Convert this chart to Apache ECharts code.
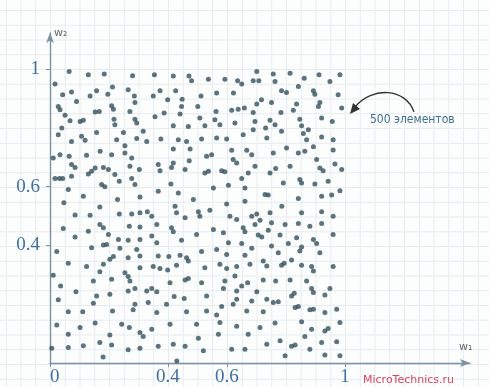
<!DOCTYPE html>
<html>
<head>
<meta charset="utf-8">
<script src="https://cdn.jsdelivr.net/npm/echarts@6/dist/echarts.min.js"></script>
<style>
  html, body { margin: 0; padding: 0; background: #fff; }
  #chart {
    width: 489px; height: 387px;
    background-color: #fcfdfd;
    background-image:
      linear-gradient(to right, #e8ecef 1px, transparent 1px),
      linear-gradient(to bottom, #e8ecef 1px, transparent 1px);
    background-size: 14.75px 14.75px;
    background-position: 50px 364px;
  }
</style>
</head>
<body>
<div id="chart"></div>
<script>
// 500 random elements (w1, w2)
const points = [
  [0.065,0.991],[0.130,0.980],[0.184,0.983],[0.280,0.977],[0.017,0.949],[0.212,0.938],[0.043,0.912],[0.073,0.921],
  [0.136,0.908],[0.158,0.926],[0.196,0.914],[0.265,0.929],[0.286,0.908],[0.090,0.889],[0.288,0.886],[0.028,0.872],
  [0.034,0.861],[0.153,0.853],[0.167,0.855],[0.209,0.875],[0.215,0.863],[0.271,0.855],[0.051,0.842],[0.068,0.824],
  [0.102,0.821],[0.113,0.825],[0.217,0.829],[0.288,0.829],[0.294,0.816],[0.220,0.810],[0.040,0.799],[0.028,0.776],
  [0.158,0.784],[0.249,0.784],[0.316,0.788],[0.107,0.771],[0.073,0.753],[0.119,0.757],[0.226,0.759],[0.294,0.763],
  [0.328,0.753],[0.254,0.739],[0.011,0.697],[0.034,0.708],[0.065,0.703],[0.124,0.706],[0.170,0.720],[0.209,0.708],
  [0.254,0.714],[0.277,0.697],
  [0.354,0.980],[0.418,0.976],[0.471,0.976],[0.480,0.960],[0.537,0.965],[0.593,0.965],[0.636,0.960],[0.650,0.949],
  [0.373,0.926],[0.350,0.908],[0.426,0.926],[0.399,0.895],[0.448,0.897],[0.512,0.908],[0.565,0.918],[0.622,0.918],
  [0.446,0.872],[0.501,0.872],[0.387,0.850],[0.356,0.837],[0.441,0.847],[0.563,0.855],[0.616,0.859],[0.638,0.863],
  [0.659,0.867],[0.418,0.807],[0.469,0.804],[0.508,0.833],[0.525,0.807],[0.559,0.827],[0.576,0.810],[0.627,0.816],
  [0.376,0.762],[0.435,0.759],[0.463,0.753],[0.514,0.762],[0.565,0.765],[0.599,0.762],[0.655,0.776],[0.418,0.728],
  [0.475,0.728],[0.531,0.703],[0.548,0.708],[0.616,0.723],[0.667,0.723],
  [0.701,0.991],[0.689,0.960],[0.708,0.960],[0.757,0.983],[0.763,0.957],[0.814,0.985],[0.862,0.968],[0.912,0.980],
  [0.983,0.980],[0.949,0.957],[0.785,0.926],[0.802,0.920],[0.842,0.940],[0.893,0.926],[0.898,0.914],[0.977,0.912],
  [0.717,0.895],[0.701,0.881],[0.751,0.886],[0.836,0.881],[0.915,0.886],[0.910,0.872],[0.989,0.867],[0.689,0.852],
  [0.783,0.852],[0.825,0.859],[0.746,0.825],[0.763,0.810],[0.695,0.821],[0.847,0.829],[0.921,0.833],[0.957,0.821],
  [0.689,0.793],[0.731,0.799],[0.853,0.807],[0.876,0.793],[0.785,0.788],[0.735,0.765],[0.859,0.780],[0.921,0.768],
  [0.960,0.759],[0.870,0.759],[0.893,0.735],[0.802,0.731],[0.960,0.724],[0.842,0.714],[0.864,0.720],[0.757,0.714],
  [0.684,0.708],
  [0.073,0.675],[0.085,0.665],[0.141,0.652],[0.153,0.663],[0.181,0.665],[0.198,0.658],[0.271,0.669],[0.303,0.658],
  [0.017,0.627],[0.032,0.627],[0.043,0.627],[0.073,0.635],[0.130,0.643],[0.220,0.641],[0.175,0.607],[0.186,0.599],
  [0.235,0.618],[0.277,0.627],[0.288,0.607],[0.062,0.590],[0.113,0.567],[0.229,0.556],[0.305,0.564],[0.047,0.545],
  [0.169,0.530],[0.085,0.503],[0.136,0.502],[0.235,0.507],[0.277,0.507],[0.305,0.511],[0.330,0.514],[0.169,0.471],
  [0.181,0.460],[0.045,0.457],[0.269,0.465],[0.305,0.462],[0.130,0.448],[0.085,0.428],[0.198,0.437],[0.232,0.420],
  [0.265,0.417],[0.305,0.420],[0.141,0.392],[0.181,0.401],[0.192,0.403],[0.237,0.390],[0.294,0.386],[0.023,0.379],
  [0.367,0.675],[0.373,0.654],[0.418,0.680],[0.412,0.665],[0.472,0.688],[0.458,0.658],[0.621,0.692],[0.633,0.680],
  [0.525,0.646],[0.537,0.652],[0.582,0.654],[0.593,0.650],[0.650,0.627],[0.661,0.595],[0.410,0.609],[0.554,0.595],
  [0.605,0.604],[0.367,0.584],[0.435,0.578],[0.486,0.556],[0.599,0.541],[0.661,0.550],[0.424,0.533],[0.429,0.511],
  [0.345,0.499],[0.503,0.514],[0.508,0.499],[0.542,0.519],[0.458,0.494],[0.610,0.499],[0.633,0.488],[0.362,0.471],
  [0.412,0.460],[0.418,0.446],[0.554,0.454],[0.588,0.443],[0.497,0.437],[0.655,0.460],[0.661,0.446],[0.345,0.432],
  [0.362,0.409],[0.446,0.417],[0.605,0.409],[0.650,0.406],[0.514,0.379],[0.565,0.386],
  [0.695,0.669],[0.672,0.646],[0.746,0.646],[0.765,0.661],[0.814,0.669],[0.904,0.692],[0.915,0.663],[0.926,0.654],
  [0.966,0.677],[0.989,0.658],[0.791,0.612],[0.847,0.624],[0.853,0.612],[0.898,0.609],[0.943,0.618],[0.983,0.586],
  [0.729,0.573],[0.740,0.571],[0.842,0.559],[0.921,0.567],[0.955,0.571],[0.786,0.533],[0.853,0.511],[0.921,0.514],
  [0.960,0.499],[0.684,0.499],[0.701,0.507],[0.746,0.511],[0.712,0.485],[0.695,0.471],[0.751,0.477],[0.797,0.471],
  [0.842,0.474],[0.881,0.465],[0.921,0.474],[0.740,0.451],[0.706,0.435],[0.718,0.428],[0.780,0.435],[0.836,0.426],
  [0.893,0.420],[0.960,0.437],[0.751,0.398],[0.808,0.406],[0.853,0.394],[0.847,0.381],[0.904,0.406],[0.915,0.375],
  [0.774,0.375],[0.684,0.390],
  [0.203,0.353],[0.215,0.362],[0.265,0.358],[0.305,0.364],[0.062,0.339],[0.124,0.328],[0.181,0.336],[0.169,0.310],
  [0.254,0.307],[0.265,0.294],[0.271,0.279],[0.305,0.324],[0.011,0.298],[0.147,0.279],[0.209,0.285],[0.036,0.262],
  [0.088,0.242],[0.158,0.228],[0.203,0.234],[0.265,0.245],[0.288,0.253],[0.328,0.245],[0.028,0.215],[0.147,0.203],
  [0.288,0.200],[0.333,0.206],[0.062,0.174],[0.111,0.174],[0.212,0.177],[0.282,0.181],[0.023,0.129],[0.102,0.121],
  [0.153,0.136],[0.243,0.132],[0.269,0.121],[0.305,0.104],[0.062,0.098],[0.203,0.095],[0.316,0.090],[0.006,0.050],
  [0.062,0.053],[0.113,0.059],[0.169,0.070],[0.209,0.061],[0.265,0.045],[0.305,0.050],[0.180,0.020],
  [0.367,0.364],[0.403,0.362],[0.441,0.366],[0.463,0.358],[0.599,0.369],[0.661,0.366],[0.350,0.328],[0.373,0.321],
  [0.399,0.316],[0.429,0.332],[0.469,0.347],[0.525,0.324],[0.576,0.336],[0.599,0.321],[0.633,0.328],[0.407,0.273],
  [0.458,0.282],[0.469,0.287],[0.514,0.273],[0.593,0.279],[0.627,0.296],[0.588,0.253],[0.633,0.245],[0.650,0.262],
  [0.345,0.253],[0.362,0.242],[0.421,0.226],[0.455,0.219],[0.531,0.228],[0.633,0.217],[0.621,0.200],[0.582,0.192],
  [0.395,0.200],[0.362,0.172],[0.463,0.174],[0.531,0.177],[0.565,0.163],[0.667,0.177],[0.345,0.115],[0.407,0.132],
  [0.497,0.132],[0.576,0.138],[0.633,0.125],[0.571,0.098],[0.503,0.084],[0.418,0.064],[0.367,0.057],[0.458,0.057],
  [0.520,0.042],[0.616,0.047],[0.661,0.047],[0.430,0.007],
  [0.678,0.336],[0.723,0.347],[0.735,0.330],[0.785,0.332],[0.794,0.339],[0.819,0.350],[0.853,0.332],[0.887,0.328],
  [0.893,0.313],[0.960,0.328],[0.670,0.273],[0.723,0.282],[0.765,0.279],[0.814,0.282],[0.870,0.279],[0.701,0.242],
  [0.819,0.228],[0.828,0.237],[0.887,0.253],[0.893,0.240],[0.949,0.253],[0.932,0.231],[0.684,0.211],[0.735,0.217],
  [0.757,0.206],[0.774,0.208],[0.831,0.189],[0.842,0.192],[0.881,0.181],[0.893,0.183],[0.932,0.172],[0.972,0.183],
  [0.723,0.174],[0.712,0.121],[0.763,0.136],[0.853,0.140],[0.887,0.115],[0.932,0.109],[0.943,0.117],[0.983,0.138],
  [0.672,0.098],[0.864,0.090],[0.921,0.070],[0.972,0.072],[0.735,0.064],[0.780,0.076],[0.831,0.061],[0.819,0.057],
  [0.881,0.047],[0.797,0.025],[0.983,0.025],[0.932,0.027]
];
const xTickValues = [0, 0.4, 0.6, 1];
const yTickValues = [0.4, 0.6, 1];
const xAxisEnd = 1.424; // axis lines run past 1 up to the arrows
const yAxisEnd = 1.122;

const axisColor = '#7c91a1';
const labelColor = '#41709c';
const labelFont = 'Liberation Serif';

const chart = echarts.init(document.getElementById('chart'), null, { renderer: 'canvas' });
const option = {
  animation: false,
  grid: { left: 50, right: 19, top: 33, bottom: 23 },
  xAxis: {
    type: 'value',
    min: 0,
    max: xAxisEnd,
    axisLine: {
      show: true,
      onZero: false,
      symbol: ['none', 'arrow'],
      symbolSize: [6, 10],
      lineStyle: { color: axisColor, width: 1.4 }
    },
    axisTick: { show: true, customValues: xTickValues, length: 4, lineStyle: { color: axisColor } },
    axisLabel: {
      customValues: xTickValues,
      formatter: (v) => String(v),
      color: labelColor,
      fontFamily: labelFont,
      fontSize: 19,
      margin: 5,
      alignMinLabel: 'left'
    },
    splitLine: { show: false }
  },
  yAxis: {
    type: 'value',
    min: 0,
    max: yAxisEnd,
    axisLine: {
      show: true,
      onZero: false,
      symbol: ['none', 'arrow'],
      symbolSize: [6, 10],
      lineStyle: { color: axisColor, width: 1.4 }
    },
    axisTick: { show: true, customValues: yTickValues, length: 4, lineStyle: { color: axisColor } },
    axisLabel: {
      customValues: yTickValues,
      formatter: (v) => String(v),
      color: labelColor,
      fontFamily: labelFont,
      fontSize: 19,
      margin: 10
    },
    splitLine: { show: false }
  },
  series: [
    {
      type: 'scatter',
      data: points,
      symbolSize: 5,
      itemStyle: { color: '#35505d' }
    }
  ],
  graphic: [
    { type: 'text', left: 459, top: 342, style: { text: 'w₁', fill: '#666', font: '11px DejaVu Sans' } },
    { type: 'text', left: 54, top: 28, style: { text: 'w₂', fill: '#666', font: '11px DejaVu Sans' } },
    { type: 'text', left: 370, top: 114, style: { text: '500 элементов', fill: '#3f6e8c', font: '12px DejaVu Sans Condensed' } },
    {
      type: 'bezierCurve',
      shape: { x1: 414, y1: 112, cpx1: 406, cpy1: 88, cpx2: 372, cpy2: 86, x2: 355, y2: 107 },
      style: { stroke: '#333', lineWidth: 1.3, fill: null }
    },
    {
      type: 'polygon',
      shape: { points: [[350, 114], [353, 103], [360, 109]] },
      style: { fill: '#333' }
    },
    { type: 'text', left: 363, top: 375, style: { text: 'MicroTechnics.ru', fill: '#d3465f', font: '11px DejaVu Sans' } }
  ]
};
chart.setOption(option);
window.addEventListener('resize', () => chart.resize());
</script>
</body>
</html>
